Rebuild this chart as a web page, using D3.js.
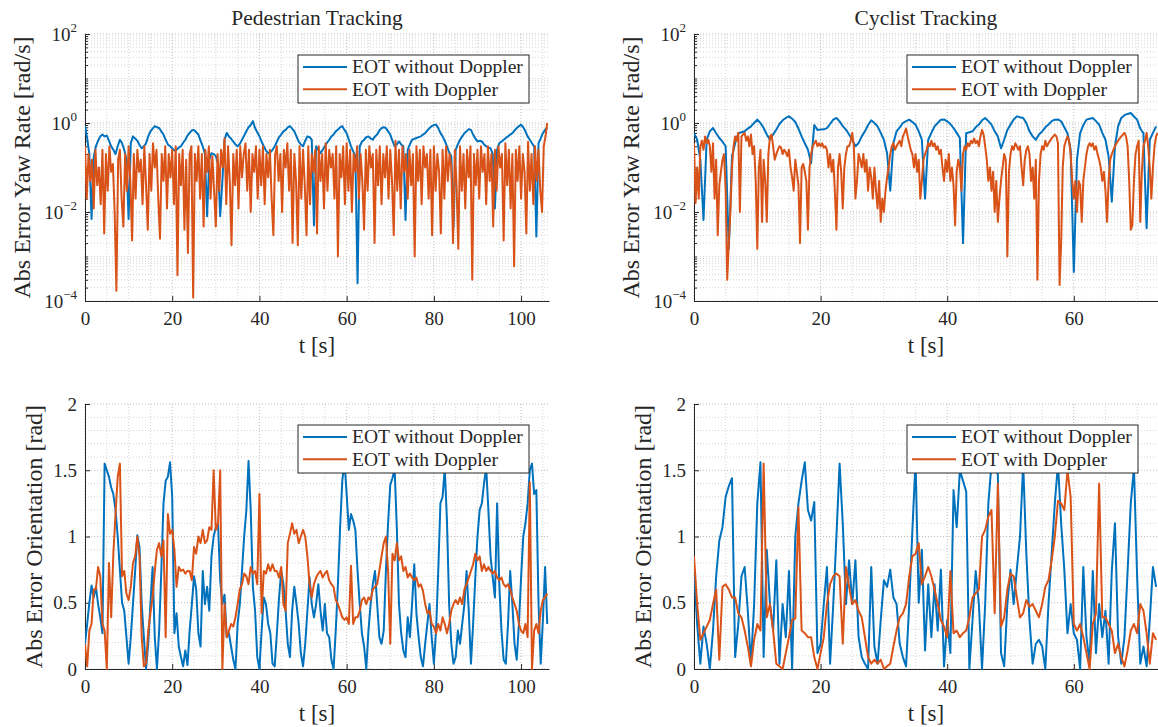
<!DOCTYPE html>
<html>
<head>
<meta charset="utf-8">
<script src="https://cdn.jsdelivr.net/npm/d3@7"></script>
<style>
  body { margin: 0; background: #fff; }
  text { font-family: "Liberation Serif", "Times New Roman", serif; }
</style>
</head>
<body>
<svg id="chart" width="1158" height="727"></svg>
<script>
//labels and ticks
var titles = ['Pedestrian Tracking', 'Cyclist Tracking'];
var yawLabel = 'Abs Error Yaw Rate [rad/s]';
var oriLabel = 'Abs Error Orientation [rad]';
var xLabel = 't [s]';
var legendLabels = ['EOT without Doppler', 'EOT with Doppler'];
var pedXTicks = [0, 20, 40, 60, 80, 100];
var cycXTicks = [0, 20, 40, 60];
var yawTicks = [1e-4, 1e-2, 1e0, 1e2];
var oriTicks = [0, 0.5, 1, 1.5, 2];
var oriTickLabels = ['0', '0.5', '1', '1.5', '2'];

//sample spacing (s) of the series below
var pedYawNoDt = 0.5, pedYawDopDt = 0.4, cycYawNoDt = 0.5, cycYawDopDt = 0.25;
var oriDt = 0.5;

//pedestrian yaw rate error, without doppler (one row = 5 s)
var pedYawNo = [
.85,.45,.2,.007,.17,.3,.4,.5,.55,.5,
.52,.4,.3,.25,.2,.3,.42,.35,.25,.15,
.007,.35,.5,.45,.4,.32,.27,.3,.35,.5,
.65,.75,.85,.8,.77,.65,.55,.42,.33,.3,
.27,.24,.25,.28,.3,.36,.42,.52,.6,.68,
.7,.62,.55,.4,.3,.2,.008,.15,.21,.2,
.18,.12,.008,.05,.42,.6,.5,.45,.38,.33,
.3,.34,.42,.52,.65,.8,.9,1.1,.77,.62,
.5,.38,.3,.24,.21,.22,.25,.3,.38,.48,
.55,.65,.7,.8,.85,.75,.65,.5,.38,.33,
.3,.4,.5,.48,.42,.005,.3,.25,.21,.25,
.3,.36,.42,.5,.55,.65,.71,.8,.85,.7,
.59,.42,.3,.23,.18,.00025,.3,.38,.42,.48,
.5,.45,.42,.5,.55,.68,.77,.8,.77,.65,
.55,.4,.3,.33,.385,.33,.3,.0066,.25,.33,
.42,.44,.46,.48,.5,.55,.59,.68,.77,.85,
.9,.92,.77,.6,.5,.4,.3,.22,.18,.0045,
.25,.33,.42,.5,.59,.65,.73,.7,.55,.45,
.385,.4,.385,.33,.3,.28,.27,.2,.012,.25,
.354,.38,.42,.46,.5,.55,.59,.68,.77,.85,
.92,.8,.65,.5,.42,.35,.3,.0028,.354,.45,
.59,.7,.8
];

//pedestrian yaw rate error, with doppler (one row = 10 s)
var pedYawDop = [
.3,.02,.2,.05,.15,.012,.25,.04,.1,.015,.25,.0033,.2,.03,.3,.08,.12,.01,.00017,.15,.25,.02,.0047,.2,.03,
.3,.05,.0023,.2,.02,.25,.08,.15,.015,.3,.04,.004,.2,.03,.35,.1,.25,.02,.0025,.2,.05,.3,.012,.2,.06,
.25,.015,.3,.00038,.2,.04,.25,.004,.15,.0012,.2,.3,.00012,.2,.05,.3,.02,.2,.0047,.25,.08,.3,.02,.18,.03,
.0047,.2,.03,.25,.1,.45,.015,.3,.05,.0018,.2,.04,.25,.012,.3,.06,.2,.35,.03,.25,.01,.2,.08,.3,.02,
.25,.04,.3,.015,.2,.06,.25,.02,.003,.2,.3,.05,.2,.01,.25,.1,.35,.03,.25,.002,.2,.05,.0018,.3,.02,
.25,.04,.003,.3,.015,.2,.08,.25,.0033,.3,.05,.2,.012,.35,.03,.25,.1,.2,.02,.3,.001,.2,.06,.3,.015,
.35,.03,.25,.01,.2,.08,.3,.02,.2,.05,.004,.25,.03,.3,.1,.2,.002,.25,.04,.3,.015,.2,.06,.3,.02,
.25,.05,.003,.4,.03,.25,.012,.3,.08,.2,.02,.25,.04,.2,.001,.3,.05,.25,.015,.3,.1,.2,.02,.25,.003,
.3,.03,.2,.08,.0033,.25,.02,.3,.05,.2,.1,.002,.25,.04,.0015,.3,.03,.2,.012,.25,.06,.3,.0003,.2,.04,
.25,.02,.3,.08,.2,.015,.3,.05,.2,.0047,.25,.03,.3,.1,.2,.0023,.35,.04,.25,.012,.2,.0006,.25,.05,.3,
.02,.2,.08,.0033,.38,.03,.2,.015,.3,.05,.25,.03,.01,.3,.5,1.0
];

//cyclist yaw rate error, without doppler
var cycYawNo = [
.59,.42,.15,.0066,.42,.65,.77,.59,.46,.38,
.3,.0015,.177,.35,.59,.62,.65,.75,.84,1.0,
1.19,1.0,.77,.55,.42,.55,.71,.95,1.15,1.3,
1.41,1.25,1.05,.75,.5,.35,.25,.125,.9,.7,
.71,.72,.77,.95,1.19,1.3,1.09,.85,.71,.55,
.42,.3,.354,.5,.65,.9,1.15,1.0,.84,.6,
.42,.21,.03,.354,.65,.8,1.0,1.1,1.19,1.05,
.92,.65,.42,.02,.42,.6,.84,1.0,1.19,1.2,
1.09,.95,.77,.6,.46,.002,.59,.62,.65,.8,
.92,1.15,1.3,1.1,.92,.65,.5,.27,.42,.7,
.92,1.2,1.41,1.35,1.3,1.0,.65,.5,.42,.55,
.65,.8,.92,1.1,1.19,1.2,1.09,.8,.59,.25,
.00045,.15,.59,.9,1.19,1.25,1.3,1.1,.92,.6,
.42,.177,.017,.3,.84,1.3,1.5,1.6,1.68,1.4,
1.19,.75,.59,.0043,.42,.6,.84
];

//cyclist yaw rate error, with doppler
var cycYawDop = [
.35,.016,.1,.02,.3,.4,.25,.5,.35,.42,.3,.08,.35,.02,.15,.003,.04,.08,.15,.2,
.03,.0003,.002,.01,.1,.3,.5,.4,.6,.01,.5,.55,.6,.4,.5,.3,.55,.2,.3,.05,
.0015,.1,.25,.006,.15,.05,.006,.2,.5,.55,.3,.15,.2,.25,.3,.28,.2,.25,.22,.18,
.25,.1,.06,.03,.15,.08,.04,.002,.1,.12,.08,.05,.004,.1,.2,.3,.35,.4,.3,.35,
.3,.35,.28,.3,.25,.1,.2,.08,.15,.03,.004,.1,.2,.08,.012,.1,.2,.3,.3,.4,
.6,.3,.02,.05,.2,.15,.1,.2,.08,.15,.03,.1,.06,.02,.1,.03,.012,.05,.006,.02,
.01,.03,.06,.1,.2,.3,.35,.25,.3,.35,.4,.3,.5,.6,.75,.5,.35,.25,.2,.1,
.2,.08,.15,.02,.05,.15,.2,.25,.35,.3,.4,.3,.35,.25,.3,.2,.25,.1,.05,.15,
.08,.2,.05,.1,.04,.005,.08,.15,.1,.03,.2,.3,.25,.35,.3,.4,.35,.45,.35,.4,
.3,.5,.7,.55,.3,.15,.05,.1,.03,.08,.01,.05,.006,.02,.05,.1,.2,.15,.001,.08,
.2,.3,.25,.35,.3,.25,.3,.1,.04,.15,.25,.3,.2,.05,.1,.02,.15,.0003,.05,.2,
.3,.25,.4,.3,.35,.4,.45,.5,.55,.5,.35,.00023,.002,.1,.3,.4,.5,.4,.2,.05,
.02,.05,.01,.05,.04,.006,.05,.1,.2,.3,.35,.3,.35,.25,.3,.2,.15,.1,.05,.08,
.03,.006,.05,.15,.2,.25,.3,.35,.4,.45,.5,.55,.6,.5,.3,.05,.004,.005,.05,.2,
.3,.4,.006,.08,.3,.4,.6,.3,.1,.02,.1,.3,.5,.6
];

//pedestrian orientation error, without doppler
var pedOriNo = [
.19,.34,.5,.63,.54,.62,.49,.39,.27,1.55,
1.5,1.45,1.37,1.32,1.2,1.0,.75,.5,.44,.24,
.04,.24,.49,.74,1.01,.92,.49,.24,0,.19,
.49,.77,.24,0,.29,.74,1.25,1.42,1.45,1.56,
1.3,.27,.42,.17,.09,.02,.14,.03,.29,.49,
.7,.6,.27,.17,.74,.49,.62,.44,.85,1.0,
1.07,1.1,.67,.49,.56,.24,.27,.17,.07,0,
.34,.49,.74,1.0,1.2,1.57,1.2,.62,.44,.09,
0,.29,.54,.49,.34,.27,.04,.02,.27,.54,
.74,.64,.44,.19,.09,.44,.62,.49,.34,.12,
.02,.19,.44,.69,.49,.39,.49,.64,.44,.29,
.49,.27,.24,.07,0,.29,.64,1.07,1.42,1.57,
1.32,1.05,1.17,1.12,1.05,.74,.49,.27,.17,0,
.29,.49,.64,.74,.49,.24,.19,.29,.74,1.1,
1.39,1.44,1.51,1.07,.49,.27,.14,.09,.39,.24,
.49,.79,.42,.24,.09,.02,.19,.34,.49,.24,
.04,.29,.74,1.25,1.3,1.51,1.12,.49,.19,.04,
.09,.29,.19,.34,.49,.74,.44,.04,.34,.69,
1.0,1.2,1.25,1.4,1.52,1.2,.85,.69,.54,1.25,
.64,.29,.07,.04,.34,.74,.49,.19,.07,.34,
.69,1.0,1.1,1.25,1.5,1.55,1.32,1.35,.49,.04,
.37,.77,.34
];

//pedestrian orientation error, with doppler
var pedOriDop = [
.19,.02,.29,.34,.6,.6,.77,.7,.34,.29,
0,.8,.39,.87,1.17,1.45,1.55,.7,.74,.57,
.52,.62,.8,.85,1.0,.85,.24,.02,.04,.29,
.42,.54,.74,.9,.95,.85,.97,.24,1.17,1.02,
1.05,.9,.62,.77,.74,.75,.72,.74,.74,.67,
.92,.87,1.0,.95,1.05,.95,.97,1.07,1.05,1.5,
1.05,1.1,1.5,0,.49,.24,.29,.34,.32,.39,
.49,.6,.64,.72,.7,.64,.77,.72,.74,.64,
1.32,.42,.74,.72,.79,.74,.79,.74,.74,.69,
.77,.49,.44,.95,1.02,1.1,1.02,1.05,.95,1.0,
1.05,1.0,.85,.64,.54,.64,.69,.72,.74,.69,
.72,.74,.67,.64,.62,.52,.49,.44,.39,.37,
.39,.34,.78,.34,.39,.39,.44,.52,.54,.49,
.54,.52,.6,.62,.64,.74,.85,.95,1.0,.74,
.19,.87,.82,.95,.82,.85,.74,.77,.69,.72,
.69,.67,.69,.62,.64,.59,.49,.42,.44,.34,
.32,.27,.34,.29,.39,.34,.27,.34,.44,.49,
.52,.49,.54,.49,.6,.64,.69,.74,.79,.87,
.82,.85,.74,.79,.74,.77,.74,.72,.74,.69,
.67,.69,.64,.62,.64,.6,.54,.49,.44,.34,
.29,.27,.34,.24,1.41,0,.29,.34,.27,.44,
.52,.54,.57
];

//cyclist orientation error, without doppler
var cycOriNo = [
.75,.34,.04,.32,.19,0,.29,.7,.97,1.07,
1.3,1.38,1.44,.09,.34,.7,.77,.44,.04,.49,
1.25,1.56,.09,.9,.49,.29,.82,.04,.49,.24,
.74,0,1.0,1.25,1.42,1.56,1.2,1.12,1.26,.12,
.19,.49,.77,.04,.49,1.0,1.55,1.1,.49,.82,
.49,.82,.24,.09,.04,0,.77,.17,.04,.37,
.67,.62,.75,.54,.49,.19,.09,.02,.49,1.05,
1.57,.5,.9,.14,.64,.24,.64,.29,.75,.02,
.37,.12,1.35,1.07,1.5,1.42,1.34,0,.37,.74,
.49,0,.49,1.25,1.55,1.52,1.47,.12,.02,.49,
.75,.49,.75,1.0,1.55,.87,.37,.04,.19,.22,
.17,0,.49,.87,1.25,1.55,1.1,.75,.27,.49,
.27,.22,0,.77,.24,.04,.74,.12,.49,.24,
.44,.04,.74,1.1,.24,.04,.24,.74,1.25,1.52,
.7,.04,.17,.02,.37,.77,.62
];

//cyclist orientation error, with doppler
var cycOriDop = [
.85,.49,.22,.27,.32,.37,.49,.6,.07,.62,
.64,.6,.54,.54,.42,.39,.29,.17,.02,.22,
.34,.29,1.55,.39,.49,.29,.04,.02,0,.12,
.24,.37,.38,1.22,.29,.27,.24,.24,.09,0,
.12,.24,.49,.64,.7,.72,.7,.19,.77,.62,
.49,.52,.44,.39,.24,.09,.04,.07,.04,.07,
0,.02,.04,.17,.29,.39,.42,.49,.7,.85,
.87,.95,.64,.7,.77,.7,.6,.49,.37,.32,
.24,.74,.27,.29,.24,.27,.29,.39,.54,.57,
.6,1.0,1.05,1.15,1.2,.42,1.4,.32,.39,.6,
.72,.7,.54,.39,.42,.52,.47,.49,.44,.39,
.49,.62,.67,.82,1.0,1.27,1.25,1.2,1.5,1.3,
.34,.29,.34,.24,.12,0,.34,.42,1.4,.39,
.39,.34,.29,.12,.19,.09,.02,.14,.29,.34,
.27,.49,.44,.27,.04,.27,.22
];

//colours
var blue = '#0072BD';
var orange = '#D95319';
var ink = '#262626';

var svg = d3.select('#chart');

//turn a value list into [t, v] points
function pts(vals, dt) {
    return vals.map(function(v, i) { return [i * dt, v]; });
}

var panels = [
    {left: 85, right: 549, top: 34, bottom: 301, xMax: 106.4, xTicks: pedXTicks, log: true,
     title: titles[0], ylabel: yawLabel, labelOff: 55,
     series: [pts(pedYawNo, pedYawNoDt), pts(pedYawDop, pedYawDopDt)]},
    {left: 694, right: 1158, top: 34, bottom: 301, xMax: 73.3, xTicks: cycXTicks, log: true,
     title: titles[1], ylabel: yawLabel, labelOff: 55,
     series: [pts(cycYawNo, cycYawNoDt), pts(cycYawDop, cycYawDopDt)]},
    {left: 85, right: 549, top: 404, bottom: 669, xMax: 106.4, xTicks: pedXTicks, log: false,
     title: null, ylabel: oriLabel, labelOff: 43,
     series: [pts(pedOriNo, oriDt), pts(pedOriDop, oriDt)]},
    {left: 694, right: 1158, top: 404, bottom: 669, xMax: 73.3, xTicks: cycXTicks, log: false,
     title: null, ylabel: oriLabel, labelOff: 43,
     series: [pts(cycOriNo, oriDt), pts(cycOriDop, oriDt)]}
];

panels.forEach(function(o, k) {
    var g = svg.append('g');

    var x = d3.scaleLinear().domain([0, o.xMax]).range([o.left, o.right]);
    var y = o.log
        ? d3.scaleLog().domain([1e-4, 1e2]).range([o.bottom, o.top])
        : d3.scaleLinear().domain([0, 2]).range([o.bottom, o.top]);

    //grid values
    var xMinor = d3.range(5, o.xMax, 5).filter(function(d) { return d % 20 !== 0; });
    var xMajor = o.xTicks;
    var yMinor = [], yMajor;
    if (o.log) {
        yMajor = yawTicks;
        for (var e = -4; e < 2; e++) {
            for (var m = 1; m < 10; m++) {
                var v = m * Math.pow(10, e);
                if (m === 1 && e % 2 === 0) continue;
                yMinor.push(v);
            }
        }
    } else {
        yMajor = oriTicks;
        yMinor = d3.range(1, 20).filter(function(i) { return i % 5 !== 0; }).map(function(i) { return i / 10; });
    }

    function vGrid(vals, col) {
        g.append('g').selectAll('line').data(vals).enter().append('line')
            .attr('x1', function(d) { return x(d); }).attr('x2', function(d) { return x(d); })
            .attr('y1', o.top).attr('y2', o.bottom)
            .attr('stroke', col).attr('stroke-width', 1).attr('stroke-dasharray', '1,2');
    }
    function hGrid(vals, col) {
        g.append('g').selectAll('line').data(vals).enter().append('line')
            .attr('y1', function(d) { return y(d); }).attr('y2', function(d) { return y(d); })
            .attr('x1', o.left).attr('x2', o.right)
            .attr('stroke', col).attr('stroke-width', 1).attr('stroke-dasharray', '1,2');
    }
    vGrid(xMinor, '#d6d6d6');
    hGrid(yMinor, '#d6d6d6');
    vGrid(xMajor, '#bdbdbd');
    hGrid(yMajor, '#bdbdbd');

    //axes
    var xAxis = d3.axisBottom(x).tickValues(o.xTicks).tickSizeInner(-5).tickSizeOuter(0).tickPadding(10.5);
    var xa = g.append('g').attr('transform', 'translate(0,' + o.bottom + ')').call(xAxis);

    var yAxis = d3.axisLeft(y).tickValues(o.log ? yawTicks : oriTicks)
        .tickSizeInner(-5).tickSizeOuter(0).tickPadding(8);
    if (o.log) {
        yAxis.tickFormat(function() { return ''; });
    } else {
        yAxis.tickFormat(function(d, i) { return oriTickLabels[i]; });
    }
    var ya = g.append('g').attr('transform', 'translate(' + o.left + ',0)').call(yAxis);

    if (o.log) {
        ya.selectAll('.tick text').each(function(d) {
            var t = d3.select(this);
            var ex = Math.round(Math.log10(d));
            t.append('tspan').text('10');
            t.append('tspan').attr('font-size', 13).attr('dy', -9)
                .text(ex < 0 ? '\u2212' + (-ex) : String(ex));
        });
        //minor log ticks
        var yMinorAxis = d3.axisLeft(y).tickValues(yMinor).tickSizeInner(-3).tickSizeOuter(0).tickFormat('');
        var ym = g.append('g').attr('transform', 'translate(' + o.left + ',0)').call(yMinorAxis);
        ym.select('.domain').remove();
        ym.attr('color', ink);
    }

    [xa, ya].forEach(function(a) {
        a.attr('color', ink).attr('font-size', 19)
         .attr('font-family', '"Liberation Serif", "Times New Roman", serif');
        a.selectAll('.tick text').attr('fill', ink);
        a.select('.domain').attr('stroke-width', 1);
    });

    //data lines
    var clipId = 'clip' + k;
    svg.append('clipPath').attr('id', clipId).append('rect')
        .attr('x', o.left).attr('y', o.top - 1)
        .attr('width', o.right - o.left).attr('height', o.bottom - o.top + 2);

    var line = d3.line()
        .x(function(d) { return x(d[0]); })
        .y(function(d) { return y(d[1]); });

    var lines = g.append('g').attr('clip-path', 'url(#' + clipId + ')');
    [blue, orange].forEach(function(col, s) {
        lines.append('path')
            .datum(o.series[s])
            .attr('d', line)
            .attr('fill', 'none')
            .attr('stroke', col)
            .attr('stroke-width', 2)
            .attr('stroke-linejoin', 'round');
    });

    //legend
    var lx = o.right - 251;
    var ly = o.top + 21;
    var leg = g.append('g');
    leg.append('rect')
        .attr('x', lx).attr('y', ly).attr('width', 231).attr('height', 48)
        .attr('fill', '#fff').attr('stroke', ink).attr('stroke-width', 1);
    [blue, orange].forEach(function(col, s) {
        var ry = ly + 12 + s * 22.3;
        leg.append('line')
            .attr('x1', lx + 5).attr('x2', lx + 49)
            .attr('y1', ry).attr('y2', ry)
            .attr('stroke', col).attr('stroke-width', 2);
        leg.append('text')
            .attr('x', lx + 54).attr('y', ry + 6.3)
            .attr('font-size', 19.5).attr('fill', ink)
            .text(legendLabels[s]);
    });

    //title
    if (o.title) {
        g.append('text')
            .attr('x', (o.left + o.right) / 2).attr('y', o.top - 9)
            .attr('text-anchor', 'middle').attr('font-size', 21.5).attr('fill', ink)
            .text(o.title);
    }

    //axis labels
    g.append('text')
        .attr('x', (o.left + o.right) / 2).attr('y', o.bottom + 52)
        .attr('text-anchor', 'middle').attr('font-size', 23).attr('fill', ink)
        .text(xLabel);

    var cy = (o.top + o.bottom) / 2;
    var lxp = o.left - o.labelOff;
    g.append('text')
        .attr('transform', 'translate(' + lxp + ',' + cy + ') rotate(-90)')
        .attr('text-anchor', 'middle').attr('font-size', 24).attr('fill', ink)
        .text(o.ylabel);
});
</script>
</body>
</html>
